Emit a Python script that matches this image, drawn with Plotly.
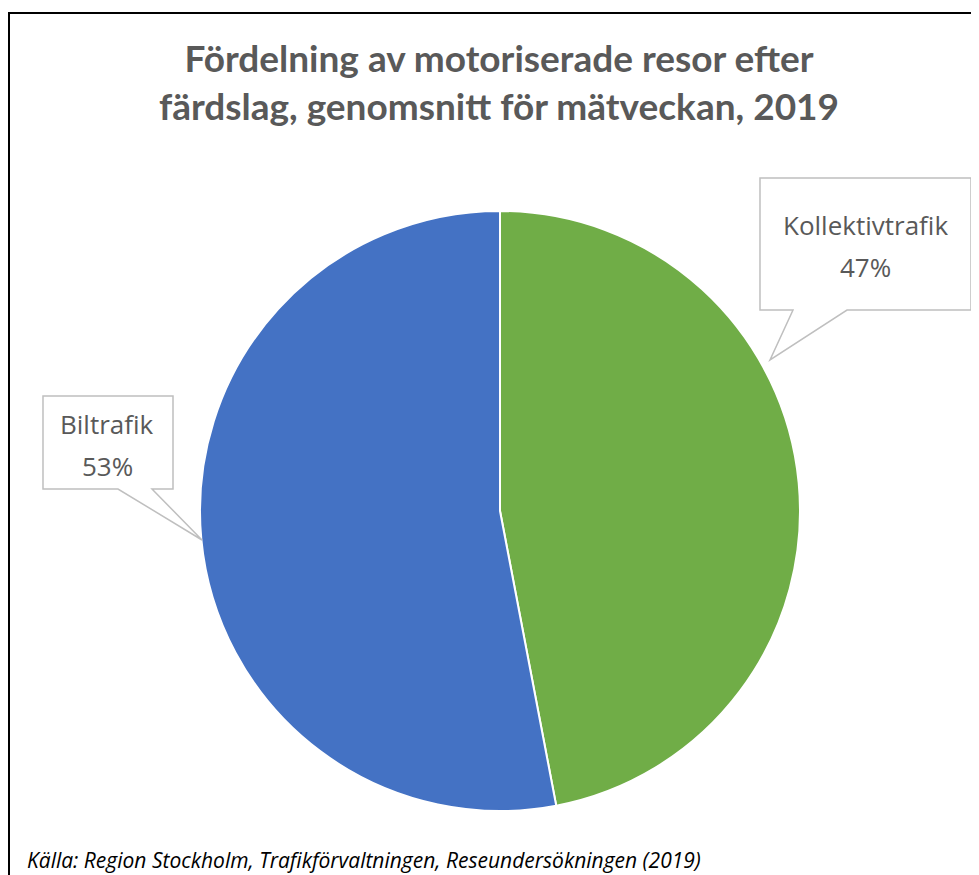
import plotly.graph_objects as go

# Data
fardslag = ['Kollektivtrafik', 'Biltrafik']
andel = [47, 53]
farger = ['#70AD47', '#4472C4']

W, H = 979, 875
OFF = 8  # page body margin


def px(x, y):
    # window pixel -> paper
    return (x - OFF) / W, 1 - (y - OFF) / H


def bubble(box, base, tip):
    # speech bubble outline: box=(x0,y0,x1,y1), base=(xa,xb) on bottom edge, tip=(x,y)
    x0, y0, x1, y1 = box
    pts = [(x0, y0), (x1, y0), (x1, y1), (base[1], y1), tip, (base[0], y1), (x0, y1)]
    p = [px(*q) for q in pts]
    return 'M ' + ' L '.join(f'{a:.5f},{b:.5f}' for a, b in p) + ' Z'


dx0, dy1 = px(200, 211)
dx1, dy0 = px(800, 811)
fig = go.Figure(go.Pie(
    labels=fardslag, values=andel, sort=False, direction='clockwise', rotation=0,
    marker=dict(colors=farger, line=dict(color='white', width=2)),
    textinfo='none', hoverinfo='label+percent', showlegend=False,
    domain=dict(x=[dx0, dx1], y=[dy0, dy1]),
))

bx0, by1 = px(9, 13)
shapes = [
    dict(type='rect', xref='paper', yref='paper', x0=bx0, x1=1.05, y0=-0.05, y1=by1,
         line=dict(color='black', width=2)),
    dict(type='path', xref='paper', yref='paper',
         path=bubble((760, 178, 971, 310), (793, 847), (770, 360)),
         fillcolor='white', line=dict(color='#BFBFBF', width=1.5)),
    dict(type='path', xref='paper', yref='paper',
         path=bubble((43, 396, 173, 489), (118, 152), (202, 540)),
         fillcolor='white', line=dict(color='#BFBFBF', width=1.5)),
]

annotations = []
for namn, v, (cx, cy) in zip(fardslag, andel, [(865, 246), (107, 445)]):
    for rad, yy in [(namn, cy - 21), (f'{v}%', cy + 21)]:
        ax, ay = px(cx, yy)
        annotations.append(dict(x=ax, y=ay, xref='paper', yref='paper', showarrow=False,
                                xanchor='center', yanchor='middle', text=rad,
                                font=dict(family='Open Sans', size=26, color='#595959')))

tx, ty = px(25, 860)
annotations.append(dict(x=tx, y=ty, xref='paper', yref='paper', showarrow=False,
                        xanchor='left', yanchor='middle',
                        text='<i>Källa: Region Stockholm, Trafikförvaltningen, Reseundersökningen (2019)</i>',
                        font=dict(family='Open Sans', size=21, color='black')))

tx, ty = px(499, 85)
fig.update_layout(
    width=W, height=H, margin=dict(l=0, r=0, t=0, b=0),
    paper_bgcolor='white', plot_bgcolor='white',
    title=dict(text='<b>Fördelning av motoriserade resor efter<br>färdslag, genomsnitt för mätveckan, 2019</b>',
               x=tx, xanchor='center', y=px(0, 72)[1], yanchor='middle',
               font=dict(family='Lato', size=37, color='#595959')),
    shapes=shapes, annotations=annotations,
)

fig.write_html('out.html')
